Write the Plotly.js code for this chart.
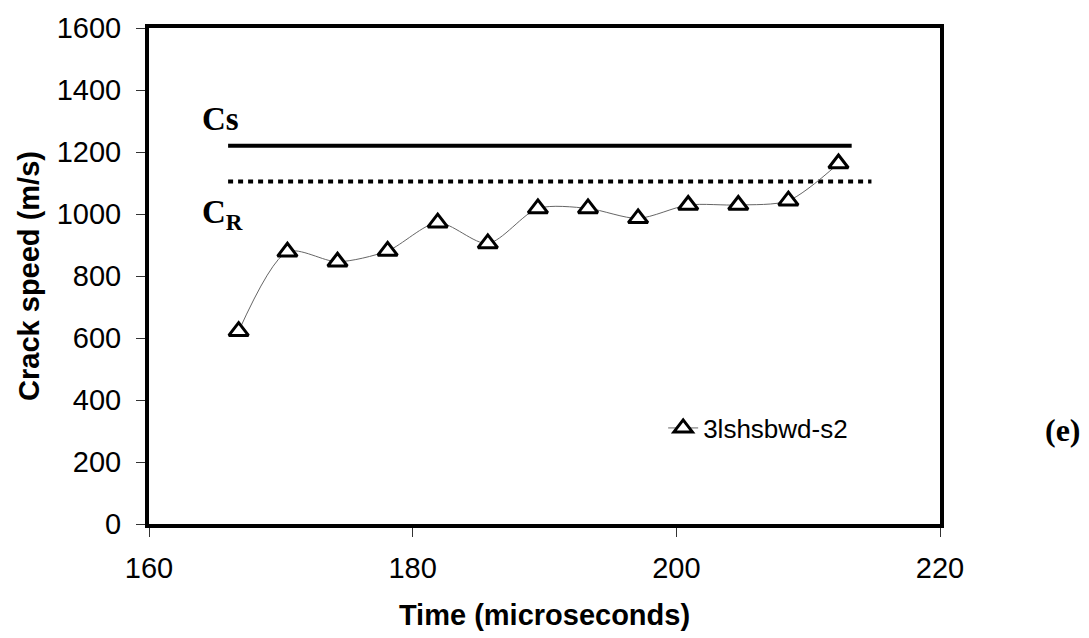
<!DOCTYPE html>
<html><head><meta charset="utf-8">
<script src="https://cdn.plot.ly/plotly-3.0.1.min.js"></script>
<style>body{margin:0;background:#fff}#chart{width:1089px;height:638px}</style>
</head><body><div id="chart"></div>
<script>
// Data
const timeUs = [166.8, 170.5, 174.3, 178.1, 181.9, 185.7, 189.5, 193.3, 197.1, 200.9, 204.7, 208.5, 212.3];
const crackSpeed = [622, 878, 846, 881, 972, 905, 1018, 1018, 986, 1029, 1029, 1043, 1163];
const seriesName = '3lshsbwd-s2';
// Shear wave speed (Cs) and Rayleigh wave speed (CR) reference lines
const csX = [166.0, 213.3];
const csY = [1220, 1220];
const crX = [166.0, 214.8];
const crY = [1105, 1105];
const xTicks = [160, 180, 200, 220];
const yTicks = [0, 200, 400, 600, 800, 1000, 1200, 1400, 1600];

const sans = 'Liberation Sans, Arial, sans-serif';
const serif = 'Liberation Serif, Times New Roman, serif';

const traces = [
  {x: csX, y: csY, mode: 'lines', showlegend: false, hoverinfo: 'skip',
   line: {color: '#000', width: 4}},
  {x: crX, y: crY, mode: 'lines', showlegend: false, hoverinfo: 'skip',
   line: {color: '#000', width: 4, dash: '5px,5px'}},
  {x: timeUs, y: crackSpeed, name: seriesName, mode: 'lines+markers',
   line: {color: '#666', width: 1, shape: 'spline', smoothing: 0.8},
   marker: {symbol: 'triangle-up', size: 17, color: '#fff', line: {color: '#000', width: 3}}}
];

const axisCommon = {
  showline: true, linewidth: 4, linecolor: '#000', mirror: true,
  showgrid: false, zeroline: false, ticks: 'outside', ticklen: 9, tickwidth: 1, tickcolor: '#333',
  tickfont: {family: sans, size: 29, color: '#000'}
};

const layout = {
  width: 1089, height: 638,
  margin: {l: 149, r: 149, t: 28, b: 114},
  paper_bgcolor: '#fff', plot_bgcolor: '#fff',
  showlegend: true,
  legend: {x: 0.65, y: 0.1935, xanchor: 'left', yanchor: 'middle', bgcolor: 'rgba(0,0,0,0)',
           font: {family: sans, size: 26, color: '#000'}},
  xaxis: Object.assign({}, axisCommon, {
    range: [160, 220], tickvals: xTicks, ticktext: xTicks.map(String), ticklabelstandoff: 6,
    title: {text: 'Time (microseconds)', font: {family: sans, size: 29, weight: 'bold', color: '#000'}, standoff: 23}
  }),
  yaxis: Object.assign({}, axisCommon, {
    range: [0, 1600], tickvals: yTicks, ticktext: yTicks.map(String), ticklabelstandoff: 9,
    title: {text: 'Crack speed (m/s)', font: {family: sans, size: 29, weight: 'bold', color: '#000'}, standoff: 10}
  }),
  annotations: [
    {text: 'Cs', xref: 'x', yref: 'y', x: 163.9, y: 1306, xanchor: 'left', yanchor: 'middle', showarrow: false,
     font: {family: serif, size: 33, weight: 'bold', color: '#000'}},
    {text: 'C<sub>R</sub>', xref: 'x', yref: 'y', x: 163.9, y: 1000, xanchor: 'left', yanchor: 'middle', showarrow: false,
     font: {family: serif, size: 33, weight: 'bold', color: '#000'}},
    {text: '(e)', xref: 'paper', yref: 'paper', x: 1.181, y: 0.19, xanchor: 'right', yanchor: 'middle', showarrow: false,
     font: {family: serif, size: 32, weight: 'bold', color: '#000'}}
  ]
};

Plotly.newPlot('chart', traces, layout, {displayModeBar: false, staticPlot: true});
</script>
</body></html>
